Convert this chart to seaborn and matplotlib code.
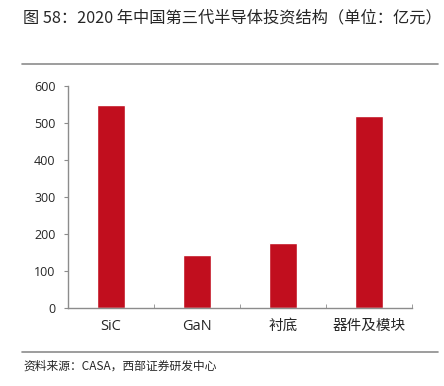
import matplotlib
matplotlib.use("Agg")
import matplotlib.pyplot as plt
import seaborn as sns
import pandas as pd

# data
categories = ["SiC", "GaN", "衬底", "器件及模块"]
values = [550, 143, 175, 520]
yticks = [0, 100, 200, 300, 400, 500, 600]

sns.set_style("white")
plt.rcParams['font.family'] = ['Open Sans', 'Noto Sans CJK SC', 'DejaVu Sans']

df = pd.DataFrame({"cat": categories, "val": values})

fig = plt.figure(figsize=(4.44, 3.86), dpi=100)
ax = fig.add_axes([0.153, 0.202, 0.775, 0.575])
sns.barplot(data=df, x="cat", y="val", color="#C10E1E", width=0.33,
            saturation=1, ax=ax)

ax.set_xlim(-0.5, 3.5)
ax.set_ylim(0, 600)
ax.set_yticks(yticks)
ax.set_xlabel("")
ax.set_ylabel("")
for s in ["top", "right"]:
    ax.spines[s].set_visible(False)
for s in ["left", "bottom"]:
    ax.spines[s].set_color("#8c8c8c")
    ax.spines[s].set_linewidth(1.0)

ax.tick_params(axis="y", direction="out", length=3, color="#8c8c8c",
               labelsize=9, pad=6, left=True)
ax.tick_params(axis="x", which="major", length=0, labelsize=10.5, pad=8)
ax.set_xticks([0.5, 1.5, 2.5, 3.5], minor=True)
ax.tick_params(axis="x", which="minor", direction="in", length=3,
               color="#8c8c8c", bottom=True)
for lab in ax.get_xticklabels():
    lab.set_family(['Open Sans', 'Noto Sans CJK SC'])

# title and source
fig.text(0.052, 0.953, "图 58：2020 年中国第三代半导体投资结构（单位：亿元）",
         fontsize=11.7, va="center", ha="left",
         family=['Noto Sans CJK SC', 'DejaVu Sans'])
fig.add_artist(plt.Line2D([0.050, 0.986], [0.834, 0.834], color="#8c8c8c", lw=1.2))
fig.add_artist(plt.Line2D([0.050, 0.986], [0.088, 0.088], color="#8c8c8c", lw=1.2))
fig.text(0.052, 0.052, "资料来源：CASA，西部证券研发中心", fontsize=8.5,
         va="center", ha="left", family=['Noto Sans CJK SC', 'DejaVu Sans'])

fig.savefig("out.png", dpi=100)
